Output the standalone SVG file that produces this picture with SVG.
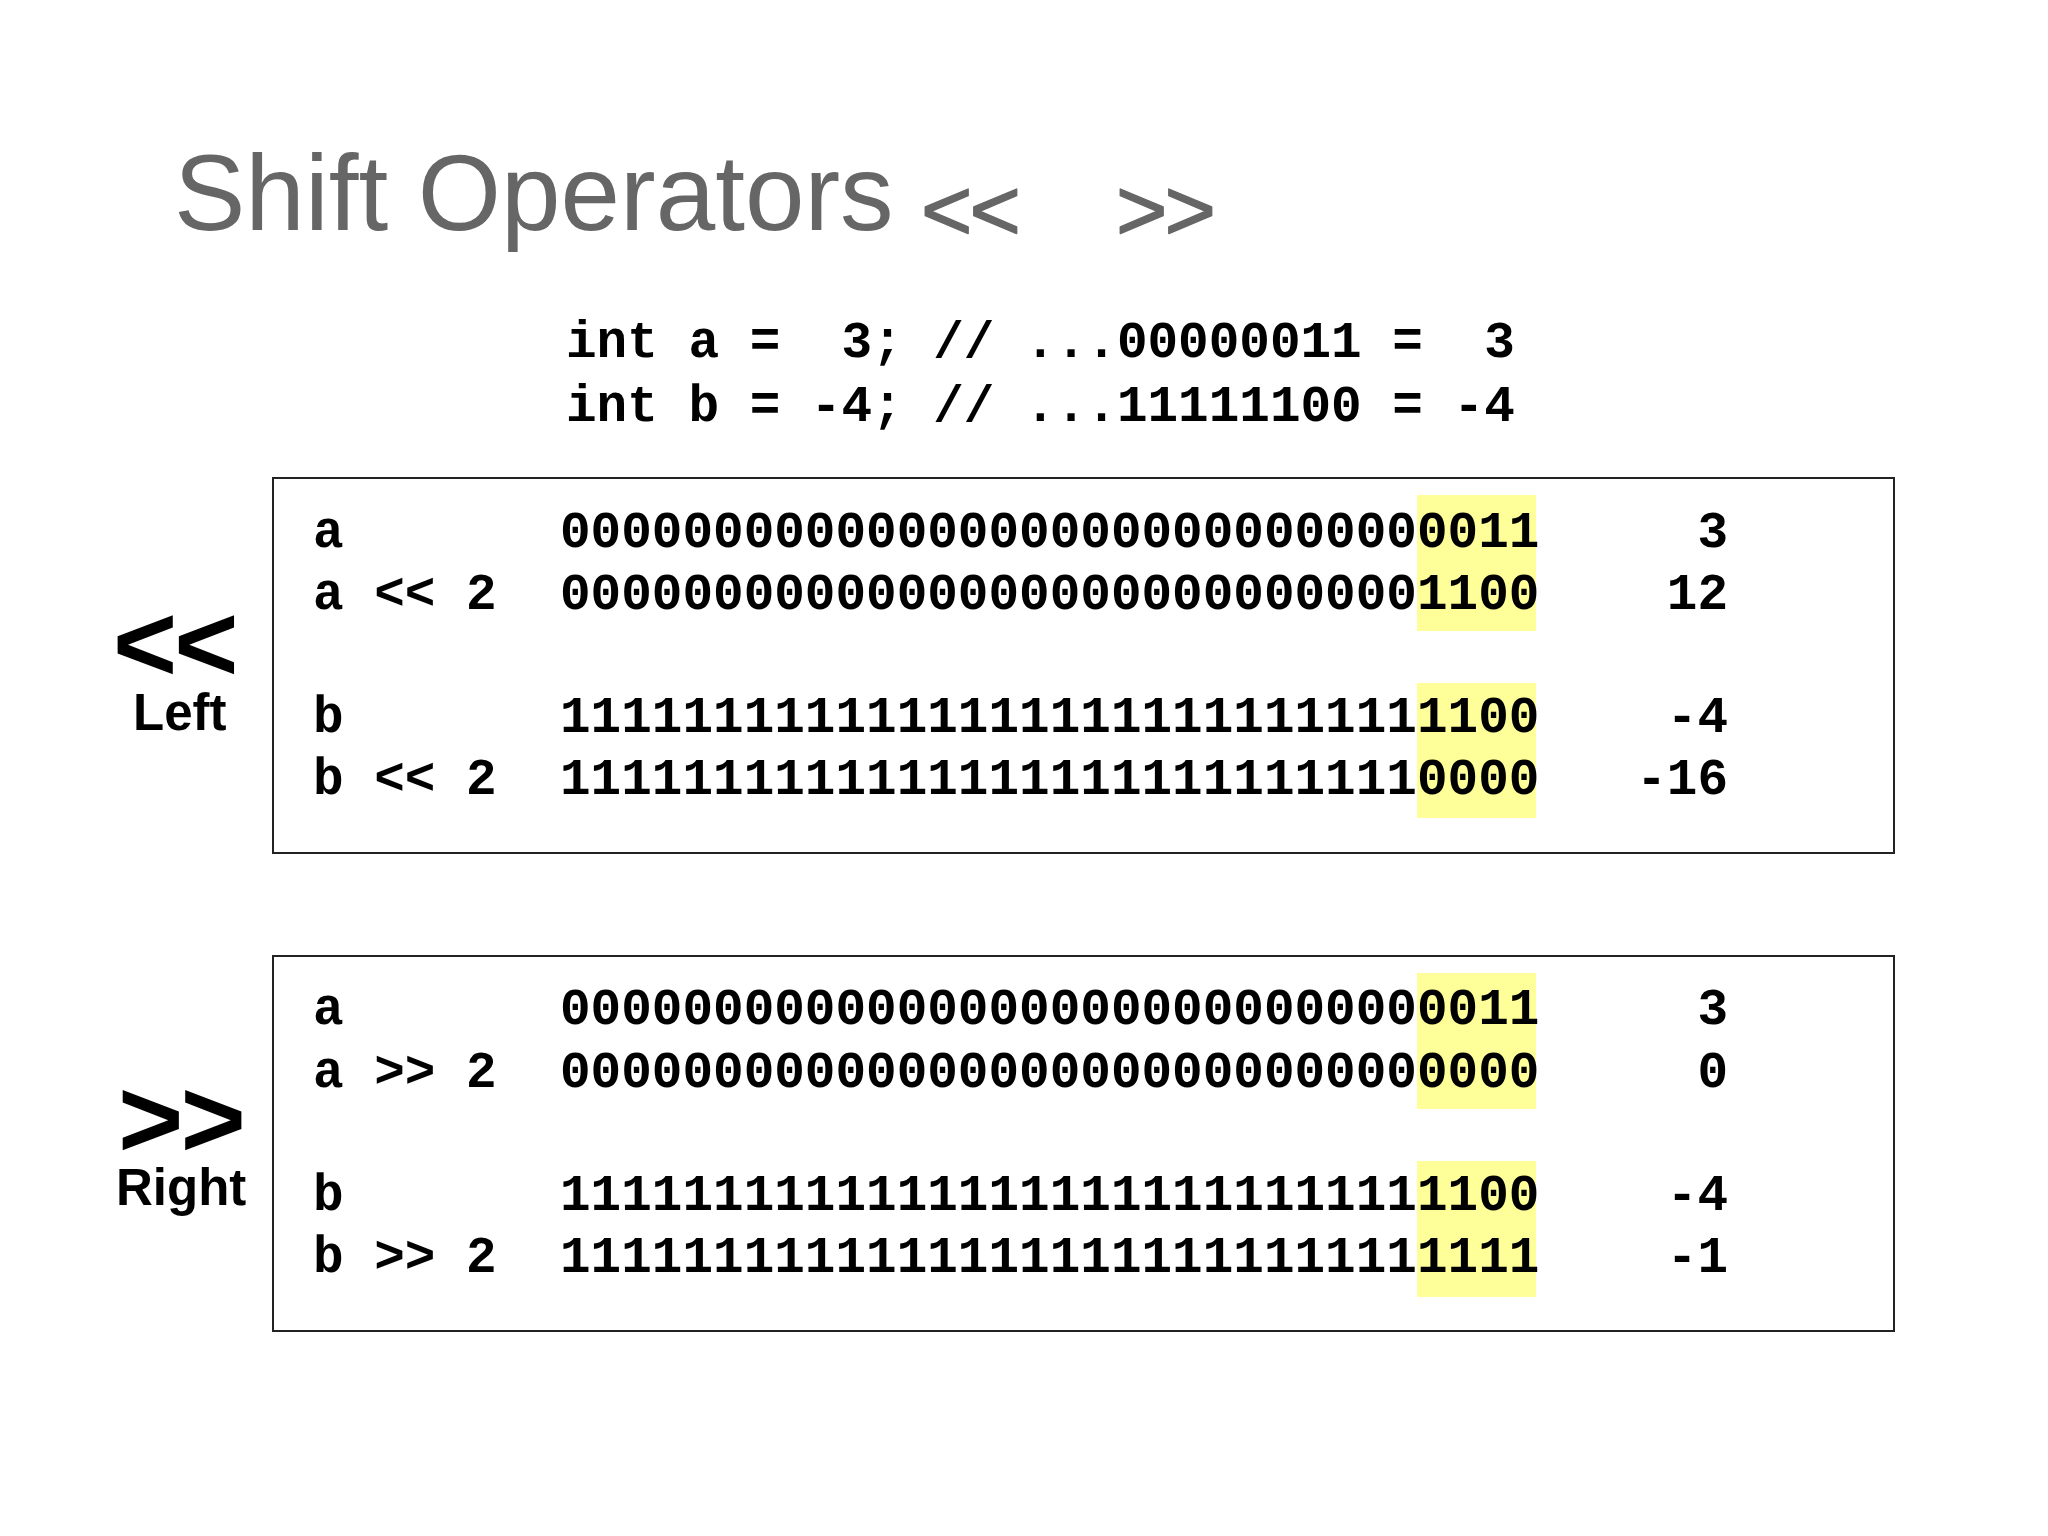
<svg xmlns="http://www.w3.org/2000/svg" width="2048" height="1536" viewBox="0 0 2048 1536">
<style>
.title{font-family:"Liberation Sans",Arial,sans-serif;fill:#666666}
.chev{stroke:#666666;stroke-width:1.5;stroke-linejoin:round}
.mono{font-family:"Liberation Mono","Courier New",monospace;font-weight:bold;font-size:51px;fill:#000}
.side{font-family:"Liberation Sans",Arial,sans-serif;font-weight:bold;fill:#000}
.box{fill:#ffffff;stroke:#222;stroke-width:2}
.hl{fill:#ffff99}
.val{text-anchor:end}
</style>
<rect width="2048" height="1536" fill="#ffffff"/>
<g id="title">
<text class="title" x="174" y="230" font-size="107">Shift Operators</text>
<text class="title chev" x="921" y="240" font-size="88" letter-spacing="-3">&lt;&lt;</text>
<text class="title chev" x="1116" y="240" font-size="88" letter-spacing="-3">&gt;&gt;</text>
</g>
<g id="declarations">
<text class="mono" x="566" y="357" xml:space="preserve">int a =  3; // ...00000011 =  3</text>
<text class="mono" x="566" y="421" xml:space="preserve">int b = -4; // ...11111100 = -4</text>
</g>
<g id="left-label">
<text class="side"><tspan x="113" y="681" font-size="110" letter-spacing="-3">&lt;&lt;</tspan><tspan x="133" y="730" font-size="51">Left</tspan></text>
</g>
<g id="left-box">
<rect class="box" x="273" y="478" width="1621" height="375"/>
<rect class="hl" x="1417" y="495" width="119" height="136"/>
<rect class="hl" x="1417" y="683" width="119" height="135"/>
<text class="mono" x="313" y="547">a</text>
<text class="mono" x="313" y="609">a &lt;&lt; 2</text>
<text class="mono" x="313" y="732">b</text>
<text class="mono" x="313" y="794">b &lt;&lt; 2</text>
<text class="mono" x="560" y="547">00000000000000000000000000000011</text>
<text class="mono" x="560" y="609">00000000000000000000000000001100</text>
<text class="mono" x="560" y="732">11111111111111111111111111111100</text>
<text class="mono" x="560" y="794">11111111111111111111111111110000</text>
<text class="mono val" x="1728" y="547">3</text>
<text class="mono val" x="1728" y="609">12</text>
<text class="mono val" x="1728" y="732">-4</text>
<text class="mono val" x="1728" y="794">-16</text>
</g>
<g id="right-label">
<text class="side"><tspan x="118" y="1157" font-size="112" letter-spacing="-3">&gt;&gt;</tspan><tspan x="116" y="1205" font-size="51">Right</tspan></text>
</g>
<g id="right-box">
<rect class="box" x="273" y="956" width="1621" height="375"/>
<rect class="hl" x="1417" y="973" width="119" height="136"/>
<rect class="hl" x="1417" y="1161" width="119" height="136"/>
<text class="mono" x="313" y="1024">a</text>
<text class="mono" x="313" y="1087">a &gt;&gt; 2</text>
<text class="mono" x="313" y="1210">b</text>
<text class="mono" x="313" y="1272">b &gt;&gt; 2</text>
<text class="mono" x="560" y="1024">00000000000000000000000000000011</text>
<text class="mono" x="560" y="1087">00000000000000000000000000000000</text>
<text class="mono" x="560" y="1210">11111111111111111111111111111100</text>
<text class="mono" x="560" y="1272">11111111111111111111111111111111</text>
<text class="mono val" x="1728" y="1024">3</text>
<text class="mono val" x="1728" y="1087">0</text>
<text class="mono val" x="1728" y="1210">-4</text>
<text class="mono val" x="1728" y="1272">-1</text>
</g>
<g id="connectors"/>
</svg>
